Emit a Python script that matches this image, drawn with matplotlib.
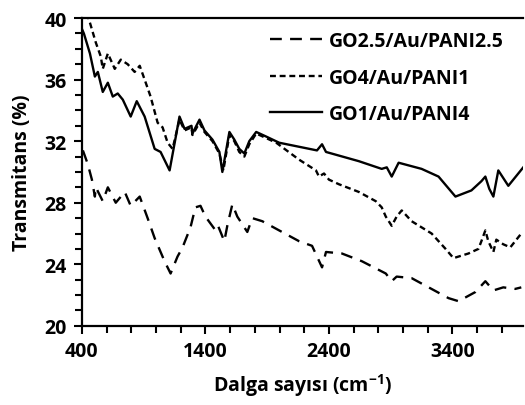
import matplotlib
matplotlib.use("Agg")
import matplotlib.pyplot as plt
from matplotlib.ticker import MultipleLocator

plt.rcParams['font.family'] = ['Open Sans', 'DejaVu Sans']
plt.rcParams['font.weight'] = 'bold'
plt.rcParams['mathtext.fontset'] = 'custom'
plt.rcParams['mathtext.rm'] = 'Open Sans:bold'
plt.rcParams['mathtext.bf'] = 'Open Sans:bold'

# GO1/Au/PANI4
wn_go1 = [400, 416, 465, 505, 529, 569, 610, 650, 690, 731, 795, 844, 908, 989, 1037,
          1110, 1190, 1231, 1287, 1295, 1352, 1392, 1457, 1513, 1537, 1594, 1634, 1674,
          1715, 1755, 1811, 1892, 1997, 2303, 2344, 2376, 2642, 2827, 2868, 2908, 2964,
          3150, 3287, 3424, 3553, 3634, 3666, 3698, 3731, 3771, 3852, 3973]
t_go1 = [39.3, 39.0, 37.7, 36.2, 36.5, 35.2, 35.8, 34.9, 35.1, 34.7, 33.6, 34.6, 33.6, 31.5, 31.3,
         30.1, 33.6, 32.8, 33.0, 32.5, 33.4, 32.7, 32.1, 31.3, 30.0, 32.6, 32.1, 31.5,
         31.2, 32.0, 32.6, 32.3, 31.9, 31.4, 31.8, 31.3, 30.7, 30.2, 30.3, 29.7, 30.6,
         30.2, 29.7, 28.4, 28.8, 29.4, 29.7, 28.9, 28.4, 30.1, 29.1, 30.3]

# GO4/Au/PANI1
wn_go4 = [440, 465, 513, 553, 569, 610, 666, 715, 771, 827, 868, 908, 956, 1013, 1053,
          1094, 1134, 1190, 1231, 1287, 1295, 1352, 1392, 1457, 1513, 1545, 1594, 1634,
          1674, 1715, 1755, 1811, 1892, 1973, 2158, 2295, 2319, 2360, 2400, 2481, 2642,
          2779, 2827, 2860, 2908, 2948, 2989, 3069, 3231, 3344, 3408, 3529, 3610, 3634,
          3666, 3690, 3731, 3755, 3811, 3868, 3957]
t_go4 = [40.3, 39.7, 38.4, 37.5, 36.7, 37.7, 36.7, 37.3, 37.0, 36.5, 36.9, 36.0, 34.9, 33.2, 32.9,
         31.9, 31.5, 33.4, 32.7, 32.9, 32.4, 33.2, 32.6, 32.0, 31.2, 30.1, 32.4, 32.0,
         31.3, 31.0, 31.8, 32.5, 32.2, 31.9, 30.8, 30.1, 29.7, 29.9, 29.5, 29.2, 28.7,
         28.1, 27.7, 27.1, 26.5, 27.1, 27.5, 26.8, 26.0, 25.0, 24.4, 24.7, 25.0, 25.5,
         26.2, 25.5, 24.8, 25.6, 25.3, 25.1, 26.0]

# GO2.5/Au/PANI2.5
wn_go25 = [408, 448, 481, 505, 513, 569, 610, 674, 747, 795, 868, 932, 989, 1069, 1118,
           1174, 1215, 1279, 1319, 1360, 1400, 1473, 1497, 1553, 1577, 1618, 1658, 1739,
           1779, 1860, 1997, 2158, 2263, 2344, 2376, 2505, 2666, 2860, 2908, 2948, 3069,
           3207, 3368, 3449, 3586, 3666, 3731, 3811, 3908, 3957]
t_go25 = [31.4, 30.5, 29.5, 28.4, 29.0, 28.1, 29.0, 28.0, 28.7, 27.8, 28.4, 27.0, 25.7, 24.2, 23.4,
          24.5, 25.1, 26.4, 27.7, 27.8, 27.1, 26.3, 26.6, 25.5, 26.5, 27.9, 27.1, 26.1,
          27.0, 26.8, 26.2, 25.5, 25.2, 23.8, 24.8, 24.7, 24.2, 23.4, 22.9, 23.2, 23.1,
          22.5, 21.8, 21.6, 22.2, 22.9, 22.3, 22.5, 22.4, 22.5]

fig = plt.figure(figsize=(5.25, 4.06), dpi=100)
ax = fig.add_axes([0.156, 0.195, 0.84, 0.758])

ax.plot(wn_go25, t_go25, color='black', lw=1.7, dashes=(5, 3.5), label='GO2.5/Au/PANI2.5')
ax.plot(wn_go4, t_go4, color='black', lw=1.7, dashes=(2.5, 1.6), label='GO4/Au/PANI1')
ax.plot(wn_go1, t_go1, color='black', lw=1.7, label='GO1/Au/PANI4')

ax.set_xlim(400, 3970)
ax.set_ylim(20, 40)
ax.xaxis.set_major_locator(MultipleLocator(1000, offset=400))
ax.xaxis.set_minor_locator(MultipleLocator(200))
ax.yaxis.set_major_locator(MultipleLocator(4))
ax.yaxis.set_minor_locator(MultipleLocator(1))
ax.tick_params(which='major', direction='out', length=6, width=1.5, labelsize=14, pad=5)
ax.tick_params(which='minor', direction='out', length=5, width=1.5)

for s in ['left', 'bottom', 'top']:
    ax.spines[s].set_linewidth(1.6)
ax.spines['right'].set_visible(False)

ax.set_xlabel('Dalga sayısı (cm$^{-1}$)', fontsize=14, fontweight='bold', labelpad=7)
ax.set_ylabel('Transmitans (%)', fontsize=14, fontweight='bold', labelpad=9)

ax.legend(loc='upper right', frameon=False, fontsize=14, handlelength=2.7,
          handletextpad=0.35, labelspacing=0.85, borderaxespad=0.0,
          bbox_to_anchor=(0.975, 0.983))

fig.savefig('out.png', dpi=100)
